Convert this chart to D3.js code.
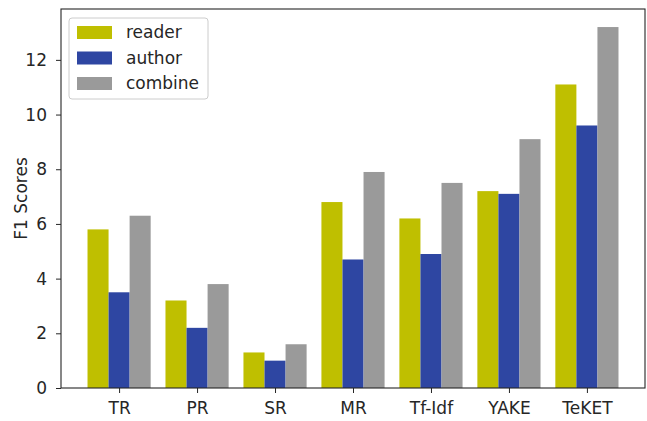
<!DOCTYPE html>
<html>
<head>
<meta charset="utf-8">
<script src="https://cdn.jsdelivr.net/npm/d3@7"></script>
<style>
  body { margin: 0; background: #fff; }
  text { font-family: "DejaVu Sans", sans-serif; fill: #262626; }
</style>
</head>
<body>
<svg width="647" height="421"></svg>
<script>
// data
var categories = ["TR", "PR", "SR", "MR", "Tf-Idf", "YAKE", "TeKET"];
var seriesNames = ["reader", "author", "combine"];
var reader  = [5.8, 3.2, 1.3, 6.8, 6.2, 7.2, 11.1];
var author  = [3.5, 2.2, 1.0, 4.7, 4.9, 7.1, 9.6];
var combine = [6.3, 3.8, 1.6, 7.9, 7.5, 9.1, 13.2];
var yTicks = [0, 2, 4, 6, 8, 10, 12];
var colors = ["#bfbf00", "#2e46a2", "#9a9a9a"];

var series = [reader, author, combine];
var svg = d3.select("svg");
var marge = {top: 9, bottom: 33, left: 61, right: 2};
var width = +svg.attr("width") - marge.left - marge.right;
var height = +svg.attr("height") - marge.top - marge.bottom;
var barW = 0.27;
var fs = 17;

var g = svg.append("g")
    .attr("transform", "translate(" + marge.left + "," + marge.top + ")");

// numeric x scale like matplotlib: index positions with 5% margins
var xScale = d3.scaleLinear()
    .domain([-0.745, categories.length - 1 + 0.745])
    .range([0, width]);
var yScale = d3.scaleLinear()
    .domain([0, 13.86])
    .range([height, 0]);

// bars
series.forEach(function(vals, s) {
    g.append("g").selectAll("rect")
        .data(vals)
        .enter()
        .append("rect")
        .attr("x", function(d, i) { return xScale(i + (s - 1) * barW - barW / 2); })
        .attr("width", function() { return xScale(barW) - xScale(0); })
        .attr("y", function(d) { return yScale(d); })
        .attr("height", function(d) { return yScale(0) - yScale(d); })
        .attr("fill", colors[s]);
});

// axes
var xAxis = d3.axisBottom(xScale)
    .tickValues(d3.range(categories.length))
    .tickFormat(function(d) { return categories[d]; })
    .tickSize(5).tickPadding(9);
var yAxis = d3.axisLeft(yScale)
    .tickValues(yTicks)
    .tickSize(5).tickPadding(9);

g.append("g").attr("id", "xAxis")
    .attr("transform", "translate(0," + height + ")")
    .call(xAxis);
g.append("g").attr("id", "yAxis")
    .call(yAxis);

svg.selectAll(".domain").remove();
svg.selectAll(".tick line").attr("stroke", "#262626").attr("stroke-width", 1);
svg.selectAll(".tick text").attr("font-size", fs).attr("fill", "#262626")
    .style("font-family", "DejaVu Sans");

// frame
g.append("rect")
    .attr("x", 0).attr("y", 0)
    .attr("width", width).attr("height", height)
    .attr("fill", "none")
    .attr("stroke", "#262626")
    .attr("stroke-width", 1.1);

// y label
svg.append("text")
    .attr("transform", "translate(27," + (marge.top + height / 2) + ") rotate(-90)")
    .attr("text-anchor", "middle")
    .attr("font-size", fs)
    .text("F1 Scores");

// legend
var leg = svg.append("g").attr("transform", "translate(69,18)");
leg.append("rect")
    .attr("width", 139).attr("height", 81)
    .attr("rx", 3)
    .attr("fill", "#fff").attr("fill-opacity", 0.8)
    .attr("stroke", "#cccccc");
var items = leg.selectAll(".item")
    .data(seriesNames)
    .enter()
    .append("g")
    .attr("transform", function(d, i) { return "translate(8," + (8 + i * 25.5) + ")"; });
items.append("rect")
    .attr("width", 35).attr("height", 13)
    .attr("fill", function(d, i) { return colors[i]; });
items.append("text")
    .attr("x", 49).attr("y", 6.5)
    .attr("dy", "0.35em")
    .attr("font-size", fs)
    .text(function(d) { return d; });
</script>
</body>
</html>
